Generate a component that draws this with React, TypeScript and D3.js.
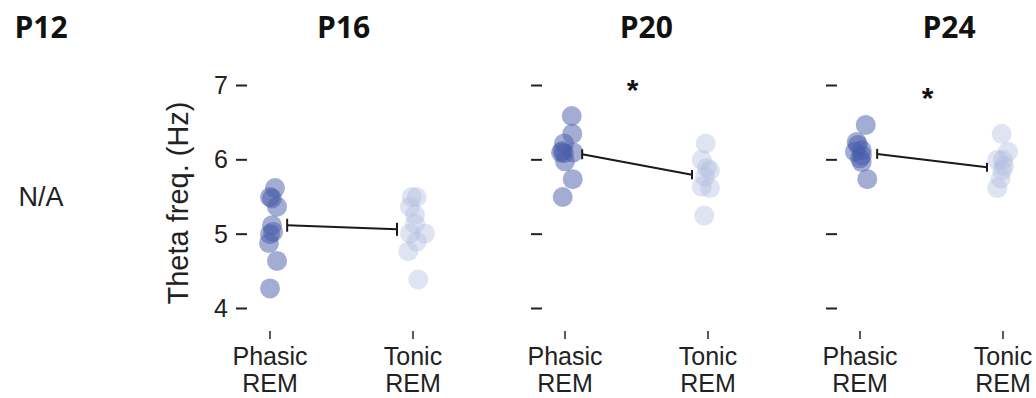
import React from "react";
import * as d3 from "d3";

// panels (P12 has no recording)
const ages = ["P12", "P16", "P20", "P24"];
const conditions = ["Phasic", "Tonic"];
const yTicks = [4, 5, 6, 7];

// theta frequency per animal (Hz)
const p16Phasic = [5.62, 5.5, 5.48, 5.37, 5.12, 5.03, 5.0, 4.88, 4.64, 4.27];
const p16PhasicJit = [0.035, 0, 0.014, 0.049, 0.014, 0.021, 0, -0.007, 0.049, 0];
const p16Tonic = [5.5, 5.5, 5.37, 5.26, 5.14, 5.01, 5.01, 4.9, 4.77, 4.39];
const p16TonicJit = [-0.009, 0.026, -0.021, 0.014, 0.014, -0.021, 0.084, 0.026, -0.033, 0.037];

const p20Phasic = [6.59, 6.35, 6.22, 6.12, 6.1, 6.09, 6.1, 5.98, 5.74, 5.5];
const p20PhasicJit = [0.047, 0.051, -0.007, -0.016, -0.028, -0.007, 0.058, 0, 0.054, -0.016];
const p20Tonic = [6.22, 6.0, 5.89, 5.86, 5.77, 5.64, 5.62, 5.25];
const p20TonicJit = [-0.016, -0.044, -0.009, 0.014, -0.021, -0.044, 0.014, -0.026];

const p24Phasic = [6.47, 6.24, 6.2, 6.13, 6.11, 6.06, 6.02, 5.97, 5.74];
const p24PhasicJit = [0.04, -0.023, -0.014, 0.012, -0.035, 0.014, 0, 0.012, 0.051];
const p24Tonic = [6.35, 6.11, 6.0, 6.0, 5.92, 5.86, 5.75, 5.62];
const p24TonicJit = [-0.009, 0.035, -0.04, 0, 0.007, -0.005, -0.016, -0.04];

// group mean and sem
const meanPhasic = [5.12, 6.075, 6.08];
const meanTonic = [5.065, 5.8, 5.9];
const semPhasic = [0.087, 0.067, 0.067];
const semTonic = [0.087, 0.063, 0.06];
const sigY = [null, 7.03, 6.93]; // asterisk height (Hz), null = n.s.

const panels = [
  { age: "P16", phasic: p16Phasic, pj: p16PhasicJit, tonic: p16Tonic, tj: p16TonicJit },
  { age: "P20", phasic: p20Phasic, pj: p20PhasicJit, tonic: p20Tonic, tj: p20TonicJit },
  { age: "P24", phasic: p24Phasic, pj: p24PhasicJit, tonic: p24Tonic, tj: p24TonicJit },
];

const W = 1036;
const H = 398;
const SANS = "'Liberation Sans', Arial, sans-serif";
const PHASIC = "rgb(72,92,170)";
const TONIC = "rgb(175,187,222)";
const INK = "#222";

export default function App() {
  // panel origin = x of the phasic column
  const panelX = d3.scalePoint().domain(ages).range([-25, 860]);
  const condX = d3.scalePoint().domain(conditions).range([0, 143]);
  const step = condX.step();
  const titleX = d3.scalePoint().domain(ages).range([41, 949]);
  const y = d3.scaleLinear().domain([4, 7]).range([308.5, 85.5]);

  return (
    <svg
      width={W}
      height={H}
      style={{ position: "absolute", left: 0, top: 0, background: "#fff" }}
      fontFamily={SANS}
    >
      {/* titles */}
      {ages.map((a) => (
        <text
          key={a}
          x={titleX(a)}
          y={38}
          textAnchor="middle"
          fontFamily="'Open Sans', sans-serif"
          fontWeight={700}
          fontSize={30}
          fill="#111"
        >
          {a}
        </text>
      ))}

      {/* P12: no data */}
      <text x={41} y={y(5.38)} textAnchor="middle" fontSize={27} fill={INK}>
        N/A
      </text>

      {/* y label */}
      <text
        transform={`translate(188,${(y(4) + y(7)) / 2 + 6}) rotate(-90)`}
        textAnchor="middle"
        fontSize={29}
        fill={INK}
      >
        Theta freq. (Hz)
      </text>

      {panels.map((p, i) => {
        const x0 = panelX(p.age)!;
        const xp = x0 + condX("Phasic")!;
        const xt = x0 + condX("Tonic")!;
        const mx1 = xp + 0.12 * step;
        const mx2 = xt - 0.112 * step;
        return (
          <g key={p.age}>
            {/* y ticks */}
            {yTicks.map((t) => (
              <g key={t}>
                <line x1={x0 - 34} x2={x0 - 23} y1={y(t)} y2={y(t)} stroke={INK} strokeWidth={2} />
                {i === 0 && (
                  <text x={x0 - 42} y={y(t) + 8.5} textAnchor="end" fontSize={25} fill={INK}>
                    {t}
                  </text>
                )}
              </g>
            ))}

            {/* x ticks + labels */}
            {conditions.map((c) => {
              const cx = x0 + condX(c)!;
              return (
                <g key={c}>
                  <line x1={cx} x2={cx} y1={331} y2={339} stroke={INK} strokeWidth={1.5} />
                  <text x={cx} y={365} textAnchor="middle" fontSize={25} fill={INK}>
                    {c}
                  </text>
                  <text x={cx} y={392} textAnchor="middle" fontSize={25} fill={INK}>
                    REM
                  </text>
                </g>
              );
            })}

            {/* points */}
            {p.phasic.map((v, k) => (
              <circle key={"p" + k} cx={xp + p.pj[k] * step} cy={y(v)} r={10} fill={PHASIC} fillOpacity={0.5} />
            ))}
            {p.tonic.map((v, k) => (
              <circle key={"t" + k} cx={xt + p.tj[k] * step} cy={y(v)} r={10} fill={TONIC} fillOpacity={0.4} />
            ))}

            {/* mean +- sem */}
            <line x1={mx1} y1={y(meanPhasic[i])} x2={mx2} y2={y(meanTonic[i])} stroke="#1a1a1a" strokeWidth={2} />
            <line
              x1={mx1}
              x2={mx1}
              y1={y(meanPhasic[i] - semPhasic[i])}
              y2={y(meanPhasic[i] + semPhasic[i])}
              stroke="#1a1a1a"
              strokeWidth={2}
            />
            <line
              x1={mx2}
              x2={mx2}
              y1={y(meanTonic[i] - semTonic[i])}
              y2={y(meanTonic[i] + semTonic[i])}
              stroke="#1a1a1a"
              strokeWidth={2}
            />

            {sigY[i] != null && (
              <text
                x={(xp + xt) / 2 - 4}
                y={y(sigY[i] as number) + 17}
                textAnchor="middle"
                fontSize={30}
                fontWeight={700}
                fill="#111"
              >
                *
              </text>
            )}
          </g>
        );
      })}
    </svg>
  );
}
